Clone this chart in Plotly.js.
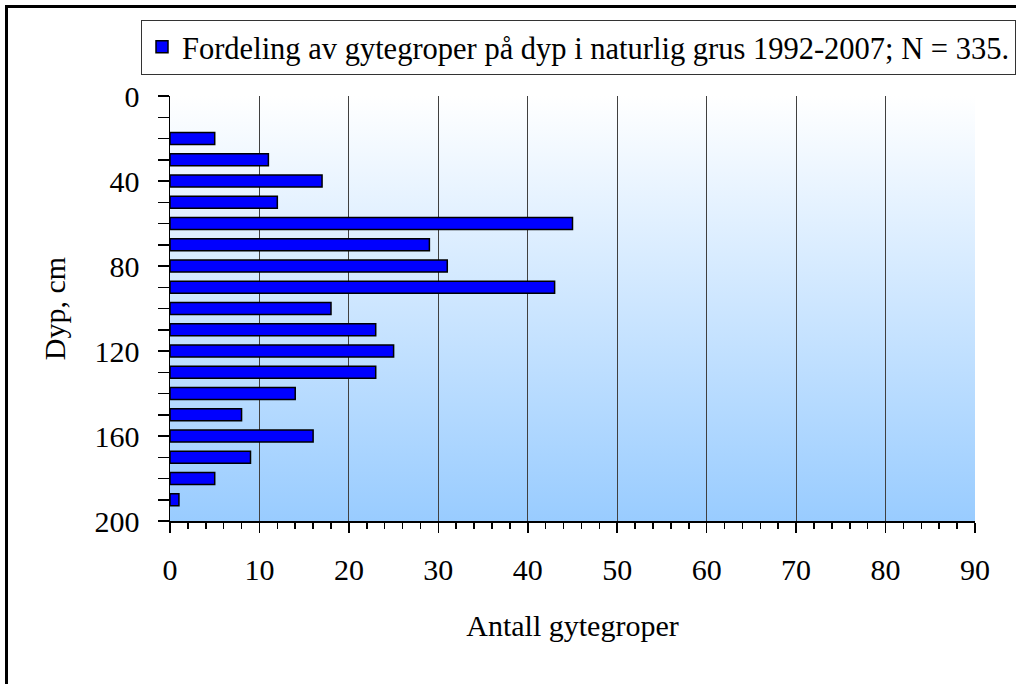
<!DOCTYPE html>
<html>
<head>
<meta charset="utf-8">
<script src="https://cdn.plot.ly/plotly-3.0.1.min.js"></script>
<style>
html,body{margin:0;padding:0;background:#fff;}
#wrap{position:relative;width:1016px;height:684px;overflow:hidden;}
#frame{position:absolute;left:5px;top:5px;width:1100px;height:800px;border-left:3px solid #000;border-top:3px solid #000;pointer-events:none;z-index:5;}
#chart{position:absolute;left:0;top:0;width:1016px;height:684px;}
</style>
</head>
<body>
<div id="wrap">
<div id="chart"></div>
<div id="frame"></div>
</div>
<script>
// Depth classes (cm) and counts of spawning redds
const depths = [20, 30, 40, 50, 60, 70, 80, 90, 100, 110, 120, 130, 140, 150, 160, 170, 180, 190];
const counts = [5, 11, 17, 12, 45, 29, 31, 43, 18, 23, 25, 23, 14, 8, 16, 9, 5, 1];
const seriesName = "Fordeling av gytegroper på dyp i naturlig grus 1992-2007; N = 335.";
const xTitle = "Antall gytegroper";
const yTitle = "Dyp, cm";

const gradSvg = '<svg xmlns="http://www.w3.org/2000/svg" width="100" height="100" preserveAspectRatio="none">' +
  '<defs><linearGradient id="g" x1="0" y1="0" x2="0" y2="1">' +
  '<stop offset="0" stop-color="#ffffff"/><stop offset="1" stop-color="#99ccff"/></linearGradient></defs>' +
  '<rect width="100" height="100" fill="url(#g)"/></svg>';
const gradUri = 'data:image/svg+xml;base64,' + btoa(gradSvg);

const font = "Liberation Serif";

const trace = {
  type: 'bar',
  orientation: 'h',
  x: counts,
  y: depths,
  name: seriesName,
  width: 5.6,
  marker: {color: '#0000ff', line: {color: '#000000', width: 1.5}},
  hoverinfo: 'x+y'
};

const layout = {
  width: 1016,
  height: 684,
  margin: {l: 170, r: 41, t: 96, b: 163},
  paper_bgcolor: 'rgba(0,0,0,0)',
  plot_bgcolor: 'rgba(0,0,0,0)',
  font: {family: font, size: 30, color: '#000'},
  showlegend: true,
  legend: {
    x: -0.0335, y: 1.18, xanchor: 'left', yanchor: 'top',
    bgcolor: '#ffffff', bordercolor: '#333333', borderwidth: 1,
    font: {family: font, size: 30.5, color: '#000'}
  },
  images: [{
    source: gradUri, xref: 'paper', yref: 'paper', x: 0, y: 1,
    sizex: 1, sizey: 1, xanchor: 'left', yanchor: 'top',
    sizing: 'stretch', layer: 'below'
  }],
  xaxis: {
    range: [0, 90],
    dtick: 10, tick0: 0,
    ticks: 'outside', ticklen: 10, tickwidth: 1.5, tickcolor: '#000',
    minor: {dtick: 2, ticks: 'outside', ticklen: 6, tickwidth: 1.5, tickcolor: '#000', showgrid: false},
    showgrid: true, gridcolor: '#404040', gridwidth: 1,
    showline: true, linecolor: '#000', linewidth: 1.5,
    zeroline: false,
    ticklabelstandoff: 11,
    tickfont: {family: font, size: 30, color: '#000'},
    title: {text: xTitle, font: {family: font, size: 30, color: '#000'}, standoff: 30},
    fixedrange: true
  },
  yaxis: {
    range: [200, 0],
    dtick: 40, tick0: 0,
    ticks: 'outside', ticklen: 11, tickwidth: 1.5, tickcolor: '#000',
    minor: {dtick: 10, ticks: 'outside', ticklen: 11, tickwidth: 1.5, tickcolor: '#000', showgrid: false},
    showgrid: false,
    showline: true, linecolor: '#000', linewidth: 1.5,
    zeroline: false,
    ticklabelstandoff: 12,
    tickfont: {family: font, size: 30, color: '#000'},
    title: {text: yTitle, font: {family: font, size: 30, color: '#000'}, standoff: 20},
    fixedrange: true
  },
  bargap: 0.43
};

Plotly.newPlot('chart', [trace], layout, {displayModeBar: false, staticPlot: true});
</script>
</body>
</html>
